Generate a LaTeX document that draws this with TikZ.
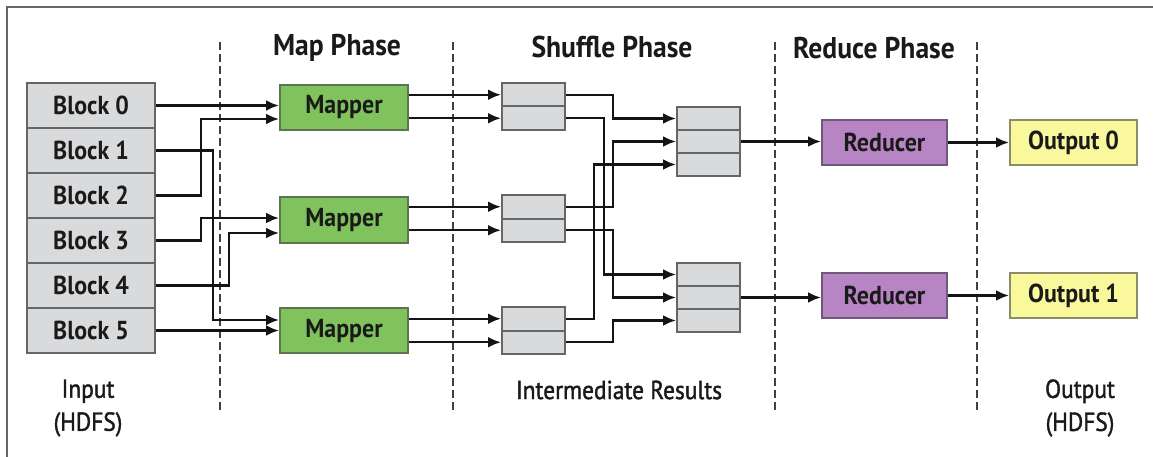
\documentclass[tikz,border=0pt]{standalone}
\usepackage{fontspec}
\setmainfont[FakeStretch=0.92]{PT Sans}
\newfontfamily\capfont[FakeStretch=0.9,FakeBold=1.5]{PT Sans}
\usetikzlibrary{arrows.meta}

\definecolor{ink}{HTML}{1A1A1A}
\definecolor{wire}{HTML}{141414}
\definecolor{divider}{HTML}{404040}
\definecolor{boxline}{HTML}{666666}
\definecolor{blockfill}{HTML}{D9DADC}
\definecolor{mapfill}{HTML}{80C25C}
\definecolor{mapline}{HTML}{5E7450}
\definecolor{redfill}{HTML}{B784C4}
\definecolor{redline}{HTML}{6E5A78}
\definecolor{outfill}{HTML}{FAF89C}
\definecolor{outline}{HTML}{8C8C6A}

\begin{document}
\begin{tikzpicture}[x=1pt,y=-1pt,
  txt/.style={text=ink, inner sep=0pt},
  boxtext/.style={txt, font=\fontsize{26}{30}\selectfont\bfseries},
  blk/.style={boxtext, draw=boxline, fill=blockfill, line width=2pt,
    minimum width=128pt, minimum height=45pt},
  mapbox/.style={boxtext, draw=mapline, fill=mapfill, line width=2pt,
    minimum width=128pt, minimum height=45pt},
  redbox/.style={boxtext, draw=redline, fill=redfill, line width=2pt,
    minimum width=125pt, minimum height=45pt},
  outbox/.style={boxtext, draw=outline, fill=outfill, line width=2pt,
    minimum width=127pt, minimum height=45pt},
  bufrow/.style={draw=boxline, fill=blockfill, line width=2pt,
    minimum width=63pt, minimum height=23.5pt, inner sep=0pt},
  shufrow/.style={draw=boxline, fill=blockfill, line width=2pt,
    minimum width=63pt, minimum height=23pt, inner sep=0pt},
  header/.style={txt, font=\fontsize{30}{34}\selectfont\bfseries},
  caption/.style={txt, font=\fontsize{26}{33}\capfont, align=center},
  phasesep/.style={draw=divider, line width=2.4pt, dash pattern=on 8pt off 4pt},
  arr/.style={draw=wire, line width=2.4pt, -{Latex[length=13pt,width=11pt]}}
]
\useasboundingbox (0,0) rectangle (1153,457);
\fill[white] (0,0) rectangle (1153,457);

% frame
\draw[line width=2pt, draw=boxline] (7,457) -- (7,7) -- (1153,7);

% phase separators
\foreach \xx in {220,453,775,977}
  \draw[phasesep] (\xx,42) -- (\xx,413);

% phase titles
\node[header] (tmap) at (337,48) {Map Phase};
\node[header] (tshuf) at (612,47) {Shuffle Phase};
\node[header] (tred) at (874,48) {Reduce Phase};

% input blocks
\node[blk] (b0) at (91,105.5) {Block 0};
\node[blk] (b1) at (91,150.5) {Block 1};
\node[blk] (b2) at (91,195.5) {Block 2};
\node[blk] (b3) at (91,240.5) {Block 3};
\node[blk] (b4) at (91,285.5) {Block 4};
\node[blk] (b5) at (91,330.5) {Block 5};

% mappers
\node[mapbox] (m1) at (344,107.5) {Mapper};
\node[mapbox] (m2) at (344,220) {Mapper};
\node[mapbox] (m3) at (344,330.5) {Mapper};

% intermediate buffers (two partitions each)
\node[bufrow] (a1) at (533.5,94.75) {};
\node[bufrow] (a2) at (533.5,118.25) {};
\node[bufrow] (c1) at (533.5,206.75) {};
\node[bufrow] (c2) at (533.5,230.25) {};
\node[bufrow] (e1) at (533.5,318.75) {};
\node[bufrow] (e2) at (533.5,342.25) {};

% shuffled inputs of the reducers
\node[shufrow] (p1) at (708.5,118.5) {};
\node[shufrow] (p2) at (708.5,141.5) {};
\node[shufrow] (p3) at (708.5,164.5) {};
\node[shufrow] (q1) at (708.5,274.5) {};
\node[shufrow] (q2) at (708.5,297.5) {};
\node[shufrow] (q3) at (708.5,320.5) {};

% reducers and outputs
\node[redbox] (r1) at (884.5,142.5) {Reducer};
\node[redbox] (r2) at (884.5,295.5) {Reducer};
\node[outbox] (o1) at (1073.5,142.5) {Output 0};
\node[outbox] (o2) at (1073.5,295.5) {Output 1};

% captions
\node[caption] (cin) at (88,408) {Input\\(HDFS)};
\node[caption] (cmid) at (619,390) {Intermediate Results};
\node[caption] (cout) at (1080,408) {Output\\(HDFS)};

% blocks -> mappers
\draw[arr] (b0.east) -- (b0.east -| m1.west);
\draw[arr] (b2.east) -- ++(45,0) |- ([yshift=-11.5pt]m1.west);
\draw[arr] (b3.east) -- ++(45,0) |- ([yshift=2pt]m2.west);
\draw[arr] (b4.east) -- ++(73,0) |- ([yshift=-13pt]m2.west);
\draw[arr] (b1.east) -- ++(57,0) |- ([yshift=10.5pt]m3.west);
\draw[arr] (b5.east) -- (b5.east -| m3.west);

% mappers -> buffers
\draw[arr] (m1.east |- a1.west) -- (a1.west);
\draw[arr] (m1.east |- a2.west) -- (a2.west);
\draw[arr] (m2.east |- c1.west) -- (c1.west);
\draw[arr] (m2.east |- c2.west) -- (c2.west);
\draw[arr] (m3.east |- e1.west) -- (e1.west);
\draw[arr] (m3.east |- e2.west) -- (e2.west);

% shuffle
\draw[arr] (a1.east) -- ++(47,0) |- (p1.west);
\draw[arr] (a2.east) -- ++(38,0) |- (q1.west);
\draw[arr] (c1.east) -- ++(47,0) |- (p2.west);
\draw[arr] (c2.east) -- ++(47,0) |- (q2.west);
\draw[arr] (e1.east) -- ++(28,0) |- (p3.west);
\draw[arr] (e2.east) -- ++(47,0) |- (q3.west);

% reduce and write out
\draw[arr] (p2.east) -- (p2.east -| r1.west);
\draw[arr] (q2.east) -- (q2.east -| r2.west);
\draw[arr] (r1.east) -- (o1.west);
\draw[arr] (r2.east) -- (o2.west);
\end{tikzpicture}
\end{document}
